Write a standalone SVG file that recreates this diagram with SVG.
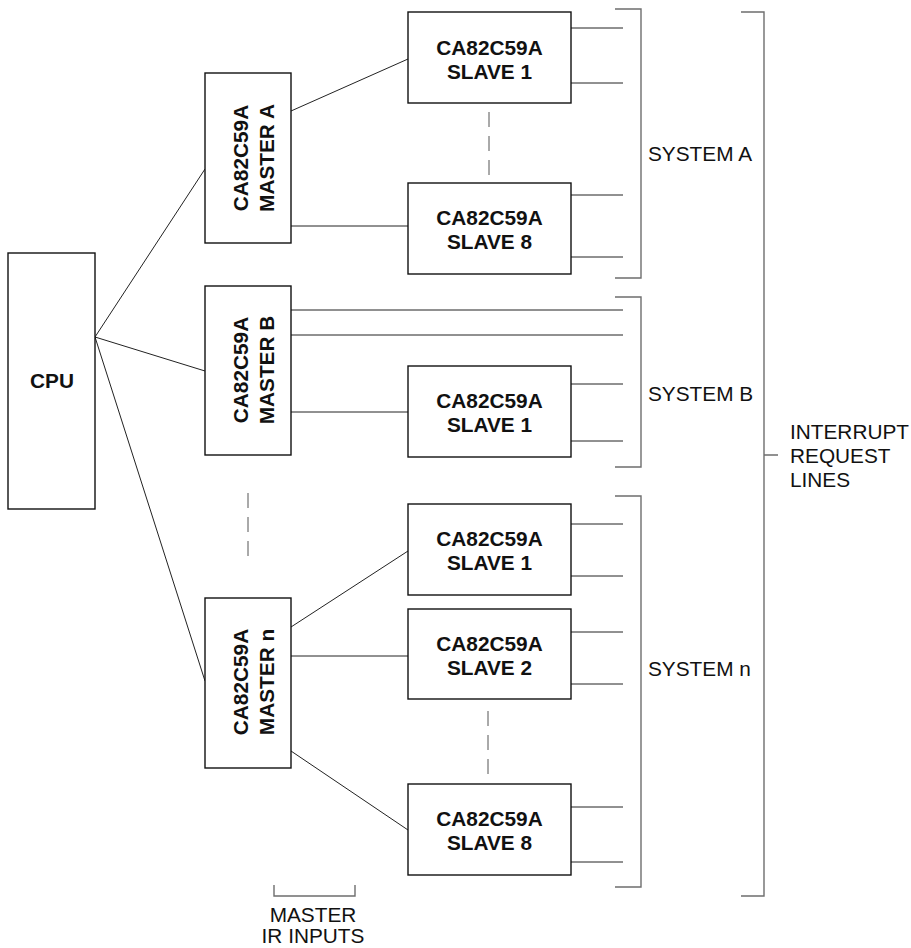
<svg xmlns="http://www.w3.org/2000/svg" width="911" height="948" viewBox="0 0 911 948">
<style>
.box{fill:#fff;stroke:#111;stroke-width:1.4}
.ln{stroke:#222;stroke-width:1;fill:none}
.dash{stroke:#555;stroke-width:1;fill:none;stroke-dasharray:15 9}
.br{stroke:#6e6e6e;stroke-width:1.4;fill:none}
.b{font-family:"Liberation Sans",Arial,sans-serif;font-weight:bold;font-size:20.8px;fill:#111;text-anchor:middle}
.r{font-family:"Liberation Sans",Arial,sans-serif;font-size:20.8px;fill:#111}
</style>
<rect width="911" height="948" fill="#fff"/>
<g id="connectors">
<path class="ln" d="M95 337 L205 169 M95 337 L205 371 M95 337 L205 681"/>
<path class="ln" d="M291 111 L408 59 M291 226 H408"/>
<path class="ln" d="M291 310 H623 M291 335 H623 M291 412 H408"/>
<path class="ln" d="M291 627 L408 551 M291 656 H408 M291 751 L408 830"/>
<path class="ln" d="M571 28 H623 M571 83 H623 M571 195 H623 M571 257 H623"/>
<path class="ln" d="M571 384 H623 M571 441 H623"/>
<path class="ln" d="M571 524 H623 M571 576 H623 M571 632 H623 M571 684 H623 M571 807 H623 M571 862 H623"/>
<path class="dash" d="M489 112 V175 M248 493 V558 M488 711 V775"/>
</g>
<g id="brackets">
<path class="br" d="M615 9 H641 V278 H615"/>
<path class="br" d="M615 297 H641 V467 H615"/>
<path class="br" d="M615 496 H641 V887 H615"/>
<path class="br" d="M741 12 H764 V896 H741 M764 455 H778"/>
<path class="br" d="M274 885 V896 H355 V885"/>
</g>
<g id="cpu"><rect class="box" x="8" y="253" width="87" height="256"/><text class="b" x="52" y="388">CPU</text></g>
<g id="masterA"><rect class="box" x="205" y="73" width="86" height="170"/>
<text class="b" transform="translate(248,158) rotate(-90)">CA82C59A</text><text class="b" transform="translate(274,158) rotate(-90)">MASTER A</text></g>
<g id="masterB"><rect class="box" x="205" y="286" width="86" height="169"/>
<text class="b" transform="translate(248,370) rotate(-90)">CA82C59A</text><text class="b" transform="translate(274,370) rotate(-90)">MASTER B</text></g>
<g id="masterN"><rect class="box" x="205" y="598" width="86" height="170"/>
<text class="b" transform="translate(248,682) rotate(-90)">CA82C59A</text><text class="b" transform="translate(274,682) rotate(-90)">MASTER n</text></g>
<g id="slaveA1"><rect class="box" x="408" y="12" width="163" height="91"/><text class="b" x="489.5" y="55">CA82C59A</text><text class="b" x="489.5" y="79">SLAVE 1</text></g>
<g id="slaveA8"><rect class="box" x="408" y="183" width="163" height="91"/><text class="b" x="489.5" y="225">CA82C59A</text><text class="b" x="489.5" y="249">SLAVE 8</text></g>
<g id="slaveB1"><rect class="box" x="408" y="366" width="163" height="91"/><text class="b" x="489.5" y="408">CA82C59A</text><text class="b" x="489.5" y="432">SLAVE 1</text></g>
<g id="slaveN1"><rect class="box" x="408" y="504" width="163" height="91"/><text class="b" x="489.5" y="546">CA82C59A</text><text class="b" x="489.5" y="570">SLAVE 1</text></g>
<g id="slaveN2"><rect class="box" x="408" y="609" width="163" height="90"/><text class="b" x="489.5" y="651">CA82C59A</text><text class="b" x="489.5" y="675">SLAVE 2</text></g>
<g id="slaveN8"><rect class="box" x="408" y="784" width="163" height="91"/><text class="b" x="489.5" y="826">CA82C59A</text><text class="b" x="489.5" y="850">SLAVE 8</text></g>
<g id="labels">
<text class="r" x="648" y="161">SYSTEM A</text>
<text class="r" x="648" y="401">SYSTEM B</text>
<text class="r" x="648" y="676">SYSTEM n</text>
<text class="r" x="790" y="439">INTERRUPT</text>
<text class="r" x="790" y="463">REQUEST</text>
<text class="r" x="790" y="487">LINES</text>
<text class="r" x="313" y="922" text-anchor="middle">MASTER</text>
<text class="r" x="313" y="943" text-anchor="middle">IR INPUTS</text>
</g>
</svg>
